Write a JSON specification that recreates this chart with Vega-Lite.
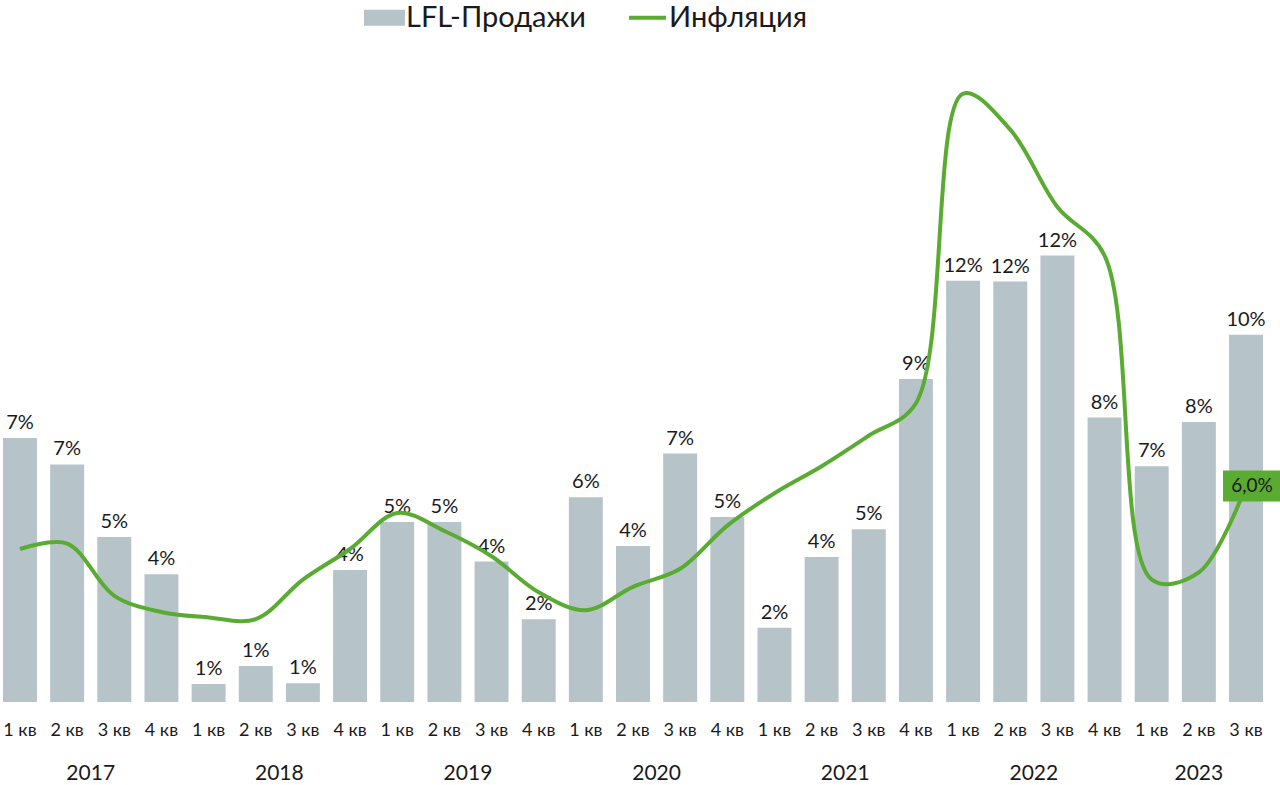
{
  "$schema": "https://vega.github.io/schema/vega-lite/v6.json",
  "autosize": "none",
  "width": 1260,
  "height": 648,
  "padding": {"left": 3, "top": 54, "right": 17, "bottom": 83},
  "background": "white",
  "config": {
    "view": {"stroke": null},
    "font": "Lato",
    "text": {"font": "Lato", "color": "#1a1a1a"}
  },
  "data": {
    "values": [
      {"q": "2017-1", "year": "2017", "lfl": 7.33, "infl": 4.25},
      {"q": "2017-2", "year": "2017", "lfl": 6.6, "infl": 4.4},
      {"q": "2017-3", "year": "2017", "lfl": 4.58, "infl": 2.95},
      {"q": "2017-4", "year": "2017", "lfl": 3.55, "infl": 2.5},
      {"q": "2018-1", "year": "2018", "lfl": 0.5, "infl": 2.35},
      {"q": "2018-2", "year": "2018", "lfl": 1.0, "infl": 2.3},
      {"q": "2018-3", "year": "2018", "lfl": 0.52, "infl": 3.4},
      {"q": "2018-4", "year": "2018", "lfl": 3.67, "infl": 4.25},
      {"q": "2019-1", "year": "2019", "lfl": 5.0, "infl": 5.25},
      {"q": "2019-2", "year": "2019", "lfl": 5.0, "infl": 4.75},
      {"q": "2019-3", "year": "2019", "lfl": 3.9, "infl": 4.05},
      {"q": "2019-4", "year": "2019", "lfl": 2.3, "infl": 3.05},
      {"q": "2020-1", "year": "2020", "lfl": 5.69, "infl": 2.55},
      {"q": "2020-2", "year": "2020", "lfl": 4.33, "infl": 3.2},
      {"q": "2020-3", "year": "2020", "lfl": 6.9, "infl": 3.7},
      {"q": "2020-4", "year": "2020", "lfl": 5.14, "infl": 4.9},
      {"q": "2021-1", "year": "2021", "lfl": 2.06, "infl": 5.8},
      {"q": "2021-2", "year": "2021", "lfl": 4.03, "infl": 6.55},
      {"q": "2021-3", "year": "2021", "lfl": 4.8, "infl": 7.4},
      {"q": "2021-4", "year": "2021", "lfl": 8.97, "infl": 8.3},
      {"q": "2022-1", "year": "2022", "lfl": 11.7, "infl": 16.9},
      {"q": "2022-2", "year": "2022", "lfl": 11.68, "infl": 15.9},
      {"q": "2022-3", "year": "2022", "lfl": 12.4, "infl": 13.75},
      {"q": "2022-4", "year": "2022", "lfl": 7.9, "infl": 12.4},
      {"q": "2023-1", "year": "2023", "lfl": 6.55, "infl": 3.4},
      {"q": "2023-2", "year": "2023", "lfl": 7.78, "infl": 3.6},
      {"q": "2023-3", "year": "2023", "lfl": 10.2, "infl": 6.0}
    ]
  },
  "encoding": {
    "x": {
      "field": "q",
      "type": "nominal",
      "sort": null,
      "scale": {"paddingInner": 0.28, "paddingOuter": 0},
      "axis": {
        "title": null,
        "domain": false,
        "ticks": false,
        "labelAngle": 0,
        "labelPadding": 19,
        "labelFont": "Lato",
        "labelFontSize": 18,
        "labelColor": "#1a1a1a",
        "labelExpr": "split(datum.value, '-')[1] + ' кв'"
      }
    }
  },
  "layer": [
    {
      "mark": {"type": "bar", "color": "#b6c4c9"},
      "encoding": {
        "y": {
          "field": "lfl",
          "type": "quantitative",
          "scale": {"domain": [0, 18], "nice": false},
          "axis": null
        },
        "color": {
          "datum": "LFL-Продажи",
          "type": "nominal",
          "scale": {
            "domain": ["LFL-Продажи", "Инфляция"],
            "range": ["#b6c4c9", "#5aab32"]
          },
          "legend": {
            "title": null,
            "orient": "none",
            "direction": "horizontal",
            "legendX": 367,
            "legendY": -51,
            "symbolSize": 400,
            "labelFont": "Lato",
            "labelFontSize": 29,
            "labelLimit": 500,
            "labelColor": "#1a1a1a",
            "labelOffset": 7,
            "columnPadding": 34,
            "encode": {
              "symbols": {
                "update": {
                  "shape": {"signal": "datum.value === 'Инфляция' ? 'M-1.85,0L1.85,0' : 'M-1.85,-0.6L1.85,-0.6L1.85,0.6L-1.85,0.6Z'"},
                  "fill": {"signal": "datum.value === 'Инфляция' ? 'transparent' : '#b6c4c9'"},
                  "stroke": {"signal": "datum.value === 'Инфляция' ? '#5aab32' : 'transparent'"},
                  "strokeWidth": {"value": 4},
                  "opacity": {"value": 1}
                }
              }
            }
          }
        }
      }
    },
    {
      "transform": [
        {"calculate": "format(datum.lfl, '.0f') + '%'", "as": "lbl"}
      ],
      "mark": {"type": "text", "baseline": "alphabetic", "dy": -9, "fontSize": 20},
      "encoding": {
        "y": {"field": "lfl", "type": "quantitative"},
        "text": {"field": "lbl"}
      }
    },
    {
      "mark": {"type": "line", "interpolate": "catmull-rom", "strokeWidth": 4, "color": "#5aab32"},
      "encoding": {
        "y": {"field": "infl", "type": "quantitative"},
        "color": {"datum": "Инфляция", "type": "nominal"}
      }
    },
    {
      "transform": [
        {"filter": "datum.q === '2023-3'"},
        {"calculate": "replace(format(datum.infl, '.1f'), '.', ',') + '%'", "as": "ilbl"}
      ],
      "layer": [
        {
          "mark": {
            "type": "point",
            "shape": "M-1,-0.534L1,-0.534L1,0.534L-1,0.534Z",
            "size": 3364,
            "filled": true,
            "opacity": 1,
            "color": "#5aab32",
            "xOffset": 6
          },
          "encoding": {"y": {"field": "infl", "type": "quantitative"}}
        },
        {
          "mark": {"type": "text", "fontSize": 19, "dx": 6, "baseline": "middle", "color": "#1a1a1a"},
          "encoding": {
            "y": {"field": "infl", "type": "quantitative"},
            "text": {"field": "ilbl"}
          }
        }
      ]
    },
    {
      "transform": [
        {"filter": "datum.q === datum.year + '-2' && datum.year !== '2023'"}
      ],
      "mark": {"type": "text", "fontSize": 21, "dx": 23.6, "baseline": "middle"},
      "encoding": {
        "y": {"value": 720},
        "text": {"field": "year"}
      }
    },
    {
      "transform": [
        {"filter": "datum.q === '2023-2'"}
      ],
      "mark": {"type": "text", "fontSize": 21, "baseline": "middle"},
      "encoding": {
        "y": {"value": 720},
        "text": {"field": "year"}
      }
    }
  ]
}
